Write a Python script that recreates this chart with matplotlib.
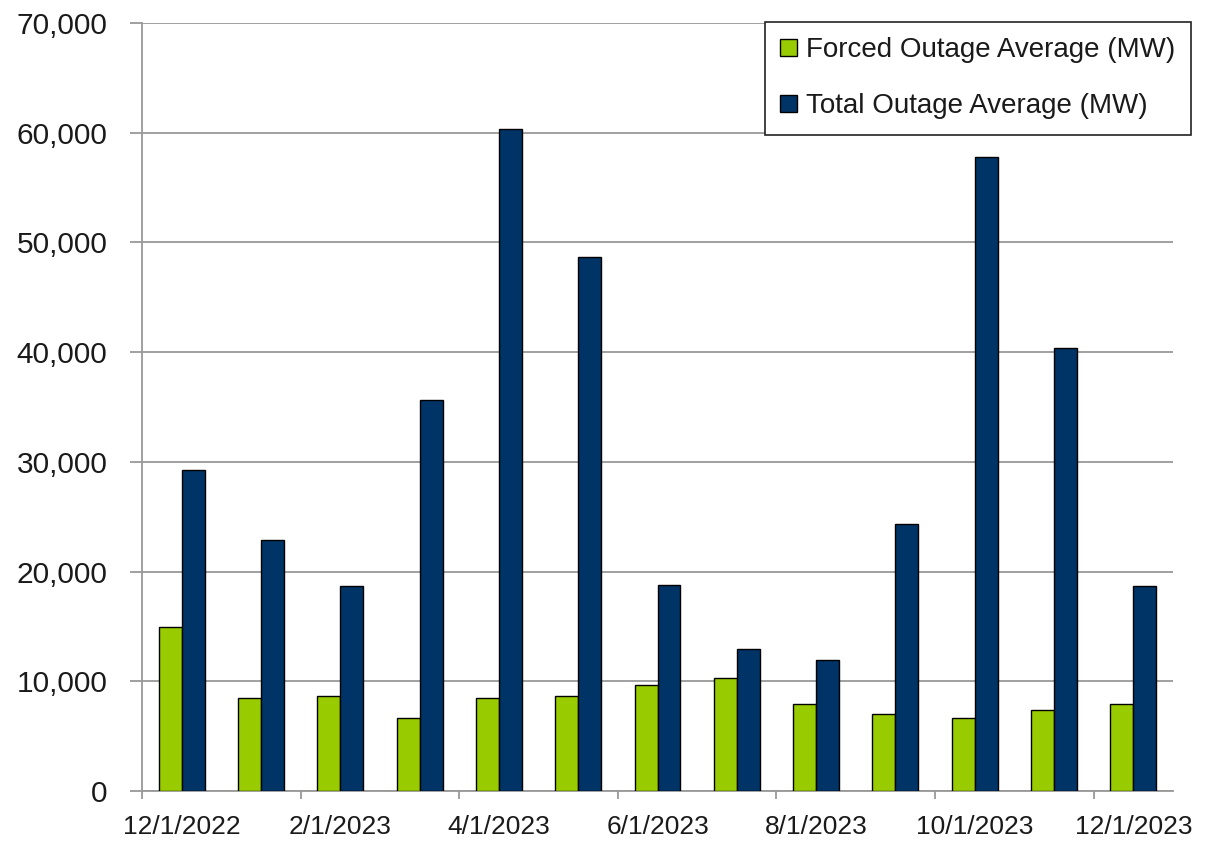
import matplotlib.pyplot as plt
import numpy as np

plt.rcParams['font.family'] = ['Liberation Sans', 'DejaVu Sans']

months = ["12/1/2022", "1/1/2023", "2/1/2023", "3/1/2023", "4/1/2023", "5/1/2023", "6/1/2023",
          "7/1/2023", "8/1/2023", "9/1/2023", "10/1/2023", "11/1/2023", "12/1/2023"]
forced = [14950, 8450, 8650, 6650, 8450, 8650, 9650, 10300, 7900, 7000, 6650, 7350, 7900]
total = [29300, 22850, 18650, 35600, 60350, 48700, 18750, 12950, 11900, 24300, 57750, 40350, 18650]

fig = plt.figure(figsize=(12.16, 8.43), dpi=100)
ax = fig.add_axes([142/1216, 1-791/843, (1173-142)/1216, (791-23)/843])

x = np.arange(len(months))
w = 0.29
ax.bar(x - w/2, forced, w, color="#99CC00", edgecolor="black", linewidth=1.0,
       label="Forced Outage Average (MW)", zorder=3)
ax.bar(x + w/2, total, w, color="#003366", edgecolor="black", linewidth=1.0,
       label="Total Outage Average (MW)", zorder=3)

ax.set_xlim(-0.5, len(months) - 0.5)
ax.set_ylim(0, 70000)
ax.set_yticks(np.arange(0, 70001, 10000))
ax.set_yticklabels([f"{v:,}" for v in range(0, 70001, 10000)])
ax.yaxis.grid(True, color="#999999", linewidth=1.3, zorder=0)
ax.tick_params(axis="y", length=9, color="#999999", width=1.3, pad=16, labelsize=21.5,
               labelcolor="#1a1a1a")

# ticks at group edges, labels at group centres
ax.set_xticks(np.arange(-0.5, len(months), 2))
ax.set_xticklabels([])
ax.set_xticks(x[::2], minor=True)
ax.set_xticklabels(months[::2], minor=True)
ax.tick_params(axis="x", which="major", length=6, color="#999999", width=1.3)
ax.tick_params(axis="x", which="minor", length=0, pad=17, labelsize=19, labelcolor="#1a1a1a")

for s in ["top", "right"]:
    ax.spines[s].set_visible(False)
for s in ["left", "bottom"]:
    ax.spines[s].set_color("#999999")
    ax.spines[s].set_linewidth(1.3)

leg = fig.legend(loc="upper right", bbox_to_anchor=(1191/1216, 1-22/843), borderaxespad=0,
                 fontsize=20, handlelength=0.6, handleheight=0.6, handletextpad=0.35,
                 labelspacing=1.08, borderpad=0.55, fancybox=False, framealpha=1)
leg.get_frame().set_edgecolor("#222222")
leg.get_frame().set_linewidth(1.2)
for t in leg.get_texts():
    t.set_color("#1a1a1a")

fig.savefig("out.png", dpi=100)
